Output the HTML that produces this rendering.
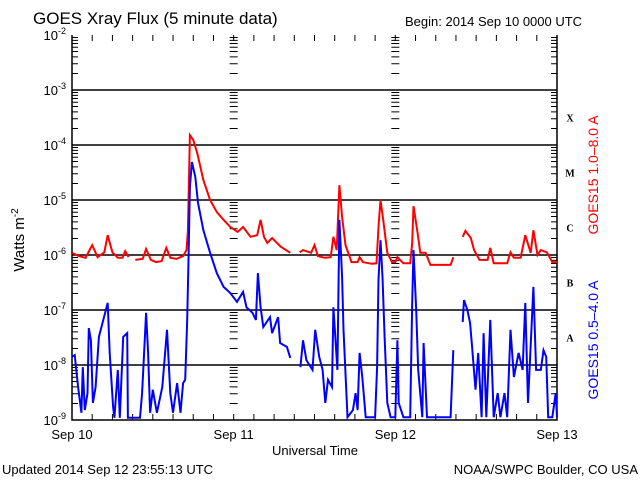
<!DOCTYPE html>
<html><head><meta charset="utf-8"><style>
html,body{margin:0;padding:0;background:#fff;}
svg{display:block;font-family:"Liberation Sans",sans-serif;}
</style></head><body>
<svg id="c" width="640" height="480" viewBox="0 0 640 480">
<text x="33" y="24" font-size="17">GOES Xray Flux (5 minute data)</text>
<text x="405" y="26" font-size="13">Begin:  2014 Sep 10 0000 UTC</text>
<text transform="translate(24,240) rotate(-90)" text-anchor="middle" font-size="15">Watts m<tspan font-size="10" dy="-6">-2</tspan></text>
<text x="315" y="455" text-anchor="middle" font-size="13">Universal Time</text>
<text x="2" y="474" font-size="13">Updated 2014 Sep 12 23:55:13 UTC</text>
<text x="638" y="474" text-anchor="end" font-size="13">NOAA/SWPC Boulder, CO USA</text>
<text transform="translate(598,175) rotate(-90)" text-anchor="middle" font-size="14" fill="#ff0000">GOES15 1.0–8.0 A</text>
<text transform="translate(598,340) rotate(-90)" text-anchor="middle" font-size="14" fill="#0000ff">GOES15 0.5–4.0 A</text>
<g id="g"></g>
</svg>
<script>
const dayLabels = ["Sep 10","Sep 11","Sep 12","Sep 13"];
const decadeExps = [-2,-3,-4,-5,-6,-7,-8,-9];
const classLetters = ["X","M","C","B","A"];
const classExps = [-3.5,-4.5,-5.5,-6.5,-7.5];
// hours since Sep 10 00:00 and log10 flux (null = data gap)
const longHours = [0,1,2,3,3.8,4.8,5.3,6,6.8,7.5,7.9,8.4,8.6,9.4,10.5,11,11.7,12.5,13.3,14,14.6,15.5,16.5,17,17.2,17.5,18,18.6,19.5,20.5,21.5,22.5,23.5,24.6,25.4,26.5,27.5,28,28.5,29,29.7,31,32.4,32.8,33.8,34.3,35.5,36,36.5,37.5,38.4,38.8,39.3,39.7,40.1,40.6,41.5,42.4,42.7,43.2,44.5,45.2,45.5,45.8,46.2,46.8,47.5,48,48.3,49.2,50.2,50.5,50.7,51.3,51.7,52.5,53.2,55,56.2,56.6,56.8,58,58.4,59.2,59.7,60.5,61.7,62.1,62.6,64.6,65.1,65.6,66.6,67.3,68.1,68.5,69.1,69.6,70.5,71.3,72];
const longLog = [-5.96,-6.02,-6.05,-5.82,-6.04,-5.95,-5.64,-5.95,-6.05,-6.05,-5.93,-6.04,null,-6.09,-6.07,-5.89,-6.09,-6.13,-6.11,-5.87,-6.05,-6.07,-6.02,-5.91,-5.55,-3.82,-3.91,-4.15,-4.64,-5.0,-5.22,-5.36,-5.49,-5.58,-5.49,-5.67,-5.64,-5.36,-5.67,-5.78,-5.69,-5.85,-5.96,null,-5.95,-5.91,-5.96,-5.82,-6.02,-6.05,-6.04,-5.67,-5.91,-4.73,-5.31,-5.82,-6.13,-6.13,-6.04,-6.13,-6.16,-6.15,-5.49,-5.0,-5.36,-5.96,-6.13,-6.13,-6.04,-6.15,-6.15,-5.78,-5.11,-5.6,-5.96,-5.96,-6.18,-6.18,-6.18,-6.04,null,-5.67,-5.56,-5.69,-5.91,-6.09,-6.09,-5.87,-6.15,-6.15,-5.95,-6.05,-6.05,-5.64,-5.96,-5.55,-6.0,-5.91,-5.95,-6.13,-6.13];
const shortHours = [
0,0.4,0.9,1.4,1.6,1.9,2.3,2.5,2.8,3.1,
3.5,4,5.3,5.6,6.1,6.3,6.8,7.1,7.6,8.2,
8.3,10.1,10.4,11,11.3,11.6,12,12.6,13.4,14.1,
14.6,15,15.6,16.1,16.5,16.8,17.1,17.3,17.5,17.8,
18.3,18.7,19.5,20.5,21.5,22.5,23.5,24.5,25.4,25.9,
26.8,27.3,27.6,28,28.4,29.4,29.7,30.6,30.9,31.9,
32.4,32.6,33.9,34.3,34.8,35.7,36.1,36.7,37.2,37.6,
38,38.6,38.8,39.4,39.7,40.1,40.3,40.9,41.7,42.1,
42.4,42.7,43.1,43.6,45,45.3,45.5,45.8,46.1,46.4,
46.8,47.3,48,48.3,48.5,49.2,50.2,50.5,50.7,51.1,
51.4,52,52.2,52.7,56.2,56.6,56.8,58,58.2,58.7,
59.1,59.4,59.9,60.3,60.8,61.1,61.5,62.1,62.6,63.2,
63.6,64.2,64.6,65.1,65.6,66.3,66.9,67.3,67.7,68.5,
68.9,69.6,70,70.4,70.7,71.3,71.8,72];
const shortLog = [
-7.85,-7.82,-8.40,-8.87,-8.04,-8.82,-8.51,-7.33,-7.55,-8.69,
-8.40,-7.49,-6.87,-7.78,-8.76,-8.96,-8.09,-8.96,-7.49,-7.42,
-8.96,-8.96,-8.51,-7.05,-7.78,-8.87,-8.45,-8.87,-8.40,-7.36,
-8.51,-8.87,-8.33,-8.87,-8.33,-8.27,-7.18,-6.09,-4.76,-4.31,
-4.58,-5.05,-5.55,-5.96,-6.33,-6.58,-6.69,-6.85,-6.67,-6.95,
-7.05,-7.18,-6.33,-6.95,-7.31,-7.13,-7.42,-7.13,-7.60,-7.67,
-7.87,null,-8.04,-7.55,-7.91,-8.09,-7.36,-7.85,-8.09,-8.69,
-8.27,-8.40,-6.95,-8.09,-5.36,-6.40,-7.36,-8.95,-8.82,-8.51,
-8.82,-7.78,-8.22,-8.95,-8.95,-8.04,-6.45,-5.73,-6.40,-7.49,
-8.69,-8.95,-8.95,-7.55,-8.69,-8.95,-8.95,-6.87,-5.91,-7.0,
-8.09,-8.95,-7.60,-8.95,-8.95,-7.73,null,-7.22,-6.82,-7.0,
-7.24,-7.67,-8.45,-7.78,-8.95,-7.42,-8.95,-7.18,-8.95,-8.51,
-8.95,-8.51,-8.95,-7.36,-8.22,-7.78,-8.09,-6.87,-8.69,-6.58,
-8.09,-8.09,-7.73,-7.85,-8.95,-8.95,-8.51,-8.95];

const X0=72, X1=557, YTOP=35, DEC=55, HOURS=72;
const xs = h => X0 + (X1-X0)*h/HOURS;
const ys = lg => YTOP + (-2 - Math.max(lg,-9))*DEC;
const NS="http://www.w3.org/2000/svg";
const g=document.getElementById('g');
function mk(tag,attrs){const e=document.createElementNS(NS,tag);for(const k in attrs)e.setAttribute(k,attrs[k]);g.appendChild(e);return e;}

decadeExps.forEach((ex,i)=>{
  const y=ys(ex);
  if(ex!==-2 && ex!==-9){
    const l=mk('line',{x1:X0,x2:X1,y1:y,y2:y,stroke:'#000','stroke-width':1.5});
    
    
  }
  const t=mk('text',{x:66,y:y+5,'text-anchor':'end','font-size':13});
  
  
  t.innerHTML='10<tspan font-size="9" dy="-6">'+ex+'</tspan>';
});
let tp='';
for(let d=-9;d<-2;d++){
  for(let m=2;m<=9;m++){
    const y=ys(d+Math.log10(m));
    tp+=`M${X0} ${y}h6M${X1} ${y}h-6`;
    [1,2].forEach(k=>{const x=xs(24*k);tp+=`M${x-4} ${y}h8`;});
  }
  [1,2].forEach(k=>{const x=xs(24*k);const y=ys(d);tp+=`M${x-4} ${y}h8`;});
}
for(let h=3;h<72;h+=3){const x=xs(h);tp+=`M${x} ${YTOP}v6M${x} ${ys(-9)}v-6`;}
const ticks=mk('path',{d:tp,stroke:'#000','stroke-width':1,fill:'none'});


const frame=mk('path',{d:`M${X0} ${YTOP}V${ys(-9)}H${X1}V${YTOP}`,stroke:'#000','stroke-width':1.5,fill:'none'});


dayLabels.forEach((lab,i)=>{
  const t=mk('text',{x:xs(24*i),y:439,'text-anchor':'middle','font-size':13});
  
  
  t.textContent=lab;
});
classLetters.forEach((c,i)=>{
  const t=mk('text',{x:570,y:ys(classExps[i])+4,'text-anchor':'middle','font-size':10,'font-family':'Liberation Serif, serif','font-weight':'bold'});
  
  
  t.textContent=c;
});
function series(hs,vals,color,name){
  let d='',pen=false;
  hs.forEach((h,i)=>{
    const v=vals[i];
    if(v===null||v===undefined){pen=false;return;}
    d+=(pen?'L':'M')+xs(h).toFixed(1)+' '+ys(v).toFixed(1);pen=true;
  });
  const p=mk('path',{d:d,stroke:color,'stroke-width':2,fill:'none','stroke-linejoin':'miter'});
  
  
}
series(longHours,longLog,'#ff0000','long-channel-line');
series(shortHours,shortLog,'#0000ff','short-channel-line');
</script>
</body></html>
